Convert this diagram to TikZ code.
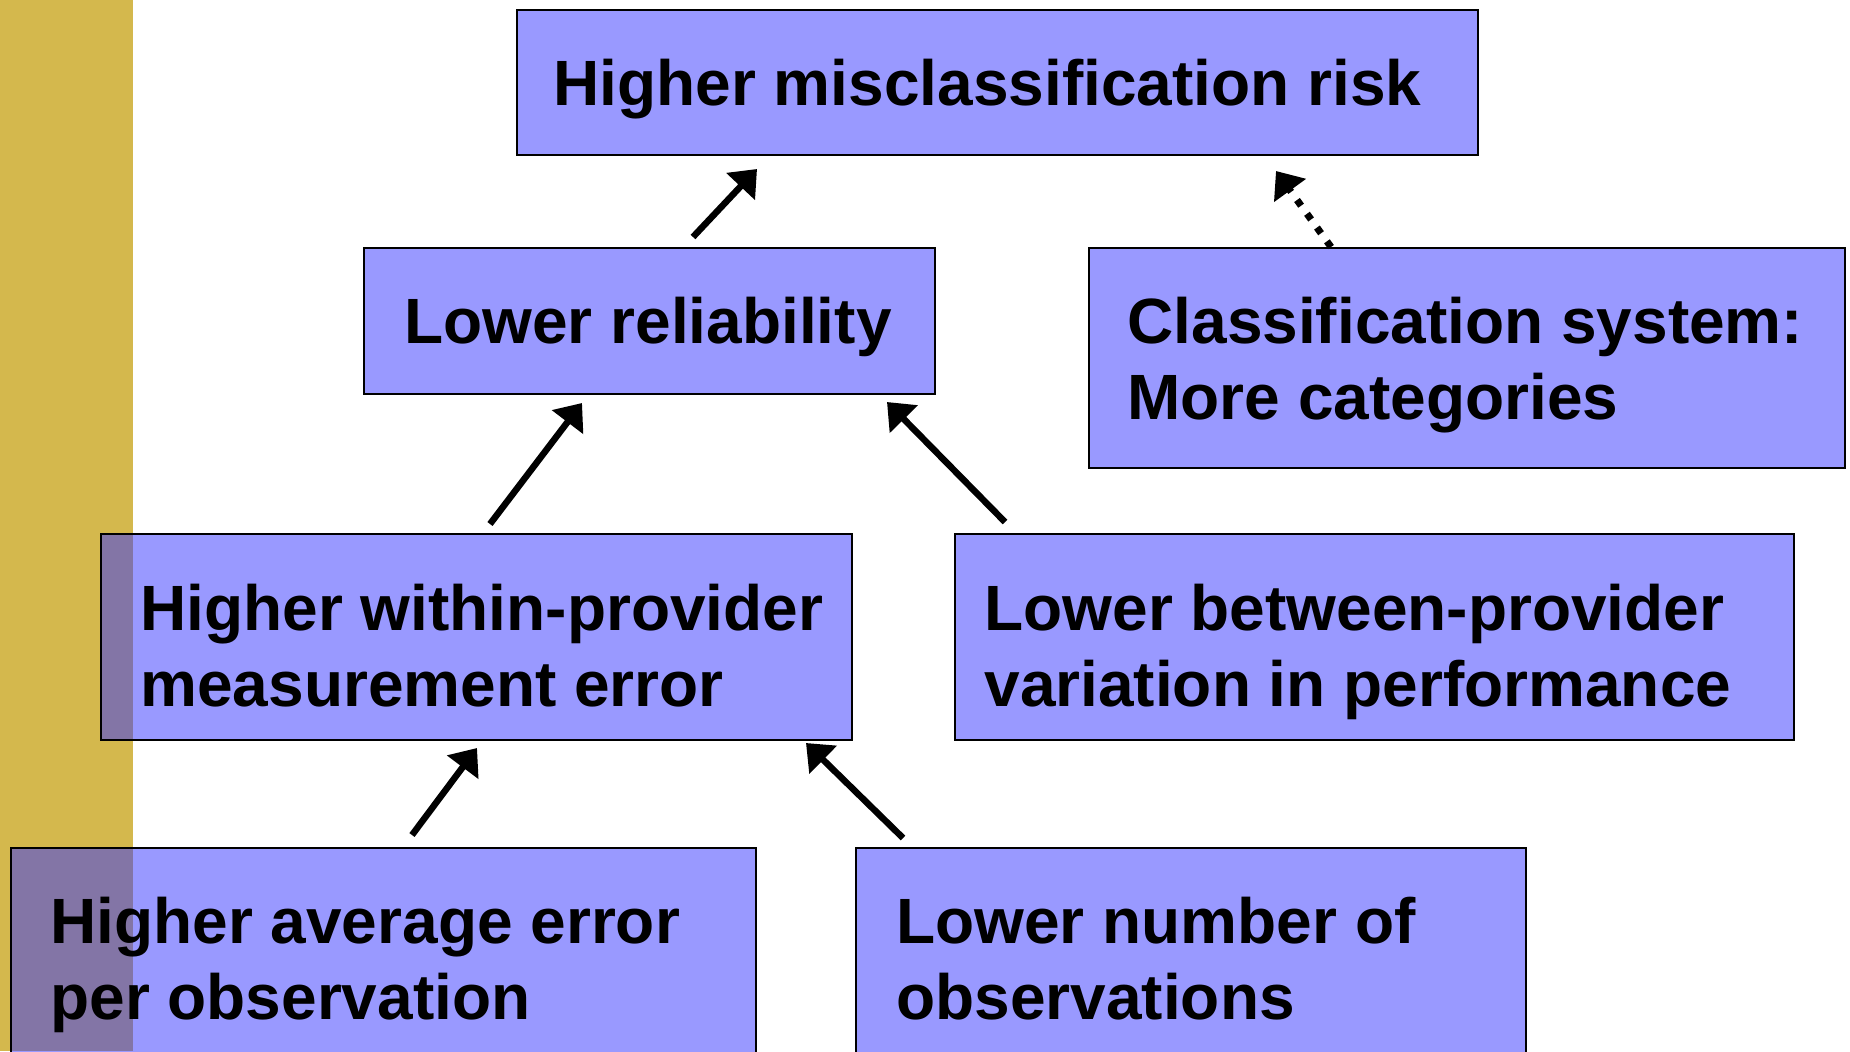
\documentclass[tikz,border=0pt]{standalone}
\usepackage{fontspec}
\setmainfont{Liberation Sans}
\usetikzlibrary{arrows.meta}
\definecolor{slidebar}{RGB}{212,184,77}
\definecolor{boxblue}{RGB}{51,51,255}

\begin{document}
\begin{tikzpicture}[
    x=0.5pt, y=-0.5pt,
    box/.style={rectangle, draw=black, line width=1pt, fill=boxblue, fill opacity=0.5, anchor=north west, inner sep=0pt},
    boxtext/.style={anchor=base west, inner sep=0pt, align=left, font=\bfseries\fontsize{32}{38}\selectfont},
    arrow/.style={-{Triangle[length=12pt,width=19pt]}, line width=3.25pt},
    dotarrow/.style={arrow, line width=3.5pt, dash pattern=on 3.5pt off 5pt}
]
\useasboundingbox (0,0) rectangle (1850,1051);
\clip (0,0) rectangle (1850,1051);

% Side bar
\fill[slidebar] (0,0) rectangle (133,1051);

% Boxes
\node[box, minimum width=480.5pt, minimum height=72.5pt] (risk) at (516,9) {};
\node[box, minimum width=285.5pt, minimum height=73pt] (reliability) at (363,247) {};
\node[box, minimum width=378pt, minimum height=110pt] (classification) at (1088,247) {};
\node[box, minimum width=375.5pt, minimum height=103pt] (within) at (100,533) {};
\node[box, minimum width=419.5pt, minimum height=103pt] (between) at (954,533) {};
\node[box, minimum width=372.5pt, minimum height=113pt] (avgerror) at (10,847) {};
\node[box, minimum width=335pt, minimum height=113pt] (numobs) at (855,847) {};

% Texts (base = last line)
\node[boxtext] (risktext) at ([xshift=18.5pt, yshift=-48pt]risk.north west) {Higher misclassification risk};
\node[boxtext] (reliabilitytext) at ([xshift=20.5pt, yshift=-48pt]reliability.north west) {Lower reliability};
\node[boxtext] (classificationtext) at ([xshift=19.5pt, yshift=-86pt]classification.north west) {Classification system:\\More categories};
\node[boxtext] (withintext) at ([xshift=20pt, yshift=-86.5pt]within.north west) {Higher within-provider\\measurement error};
\node[boxtext] (betweentext) at ([xshift=15pt, yshift=-86.5pt]between.north west) {Lower between-provider\\variation in performance};
\node[boxtext] (avgerrortext) at ([xshift=20pt, yshift=-86pt]avgerror.north west) {Higher average error\\per observation};
\node[boxtext] (numobstext) at ([xshift=20.5pt, yshift=-86pt]numobs.north west) {Lower number of\\observations};

% Arrow ends
\coordinate (a1s) at (693,237);  \coordinate (a1e) at (757,169);
\coordinate (a2s) at (490,524);  \coordinate (a2e) at (582,403);
\coordinate (a3s) at (1005,522); \coordinate (a3e) at (887,402);
\coordinate (a4s) at (412,835);  \coordinate (a4e) at (477,748);
\coordinate (a5s) at (903,838);  \coordinate (a5e) at (806,743);
\coordinate (a6s) at (1331,247); \coordinate (a6e) at (1276,171);

% Relationships
\draw[arrow] (a1s) -- (a1e);
\draw[arrow] (a2s) -- (a2e);
\draw[arrow] (a3s) -- (a3e);
\draw[arrow] (a4s) -- (a4e);
\draw[arrow] (a5s) -- (a5e);
\draw[dotarrow] (a6s) -- (a6e);

\end{tikzpicture}
\end{document}
